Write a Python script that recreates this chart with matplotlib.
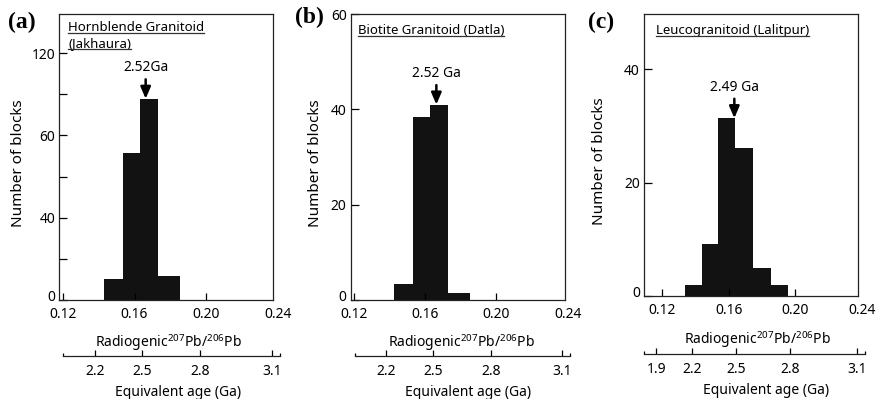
import numpy as np
import matplotlib
matplotlib.use("Agg")
import matplotlib.pyplot as plt
from matplotlib.lines import Line2D
from matplotlib.transforms import ScaledTranslation

plt.rcParams["font.family"] = ["Noto Sans", "DejaVu Sans"]
plt.rcParams["mathtext.fontset"] = "custom"
plt.rcParams["mathtext.rm"] = "Noto Sans"
plt.rcParams["mathtext.it"] = "Noto Sans:italic"
plt.rcParams["axes.linewidth"] = 0.9

# ---- data -------------------------------------------------------------
panel_letters = ["(a)", "(b)", "(c)"]
panel_titles = [["Hornblende Granitoid", "(Jakhaura)"],
                ["Biotite Granitoid (Datla)"],
                ["Leucogranitoid (Lalitpur)"]]

# bin edges (radiogenic 207Pb/206Pb) and number of blocks per bin
edges_a = [0.1428, 0.1533, 0.1630, 0.1732, 0.1853]
counts_a = [10.4, 71.5, 97.8, 11.8]
edges_b = [0.1425, 0.1530, 0.1627, 0.1730, 0.1852]
counts_b = [3.4, 38.3, 41.0, 1.5]
edges_c = [0.1338, 0.1438, 0.1533, 0.1635, 0.1743, 0.1851, 0.1956]
counts_c = [2.0, 9.1, 31.4, 26.2, 4.9, 2.0]

peak_ages = [2.52, 2.52, 2.49]
peak_labels = ["2.52Ga", "2.52 Ga", "2.49 Ga"]

ratio_ticks = [0.12, 0.16, 0.20, 0.24]
ratio_labels = ["0.12", "0.16", "0.20", "0.24"]
ratio_limits = [(0.118, 0.2375), (0.1181, 0.2385), (0.109, 0.2376)]

y_ticks = [[0, 20, 40, 60, 80, 100, 120], [0, 20, 40, 60], [0, 20, 40]]
y_labels = [["0", "", "40", "", "60", "", "120"], ["0", "20", "40", "60"], ["0", "20", "40"]]
y_limits = [(0, 139), (0, 60), (0, 49.8)]

age_ticks = [[2.2, 2.5, 2.8, 3.1], [2.2, 2.5, 2.8, 3.1], [1.9, 2.2, 2.5, 2.8, 3.1]]
age_spans = [(1.96, 3.13), (1.96, 3.13), (1.78, 3.13)]

edges_all = [edges_a, edges_b, edges_c]
counts_all = [counts_a, counts_b, counts_c]

# ---- decay constants: age (Ga) -> radiogenic 207Pb/206Pb --------------
L238 = 1.55125e-10
L235 = 9.8485e-10
U_RATIO = 137.88


def pb_ratio(age_ga):
    t = np.asarray(age_ga, dtype=float) * 1e9
    return np.expm1(L235 * t) / np.expm1(L238 * t) / U_RATIO


# ---- layout (pixels) ---------------------------------------------------
W, H = 879, 399
ax_boxes = [(59.3, 300, 214.0, 286), (350.7, 300, 214.3, 286), (644, 296, 214.0, 282)]
age_line_y = [356, 356, 354]
ylabel_x = [-0.155, -0.13, -0.175]
title_x = [0.041, 0.034, 0.056]
title_y = [[0.940, 0.885], [0.930], [0.929]]
letter_pos = [(8, 22), (295, 17), (588, 22)]
radio_pos = [(0.51, -0.15), (0.515, -0.15), (0.53, -0.155)]
equiv_pos = [(0.555, -0.325), (0.548, -0.325), (0.57, -0.334)]

fig = plt.figure(figsize=(W / 100, H / 100), dpi=100)
bar_color = "#121212"
title_texts = []
lift = ScaledTranslation(0, 3 / 72, fig.dpi_scale_trans)

for i in range(3):
    left, bottom, width, height = ax_boxes[i]
    ax = fig.add_axes([left / W, (H - bottom) / H, width / W, height / H])
    edges = np.array(edges_all[i])
    counts = np.array(counts_all[i])
    ax.stairs(counts, edges, fill=True, color=bar_color, linewidth=0)

    x0, x1 = ratio_limits[i]
    ax.set_xlim(x0, x1)
    ax.set_ylim(*y_limits[i])
    inside = [t for t in ratio_ticks if x0 <= t <= x1]
    ax.set_xticks(inside)
    ax.set_xticklabels([])
    for t, lab in zip(ratio_ticks, ratio_labels):
        ax.annotate(lab, xy=(t, 0), xycoords=ax.get_xaxis_transform(),
                    xytext=(0, -5), textcoords="offset points",
                    ha="center", va="top", fontsize=10, annotation_clip=False)
    ax.tick_params(axis="x", direction="in", length=5, width=0.9)
    ax.tick_params(axis="y", direction="in", length=6, width=0.9, pad=3)
    ax.set_yticks(y_ticks[i])
    ax.set_yticklabels(y_labels[i], fontsize=10)
    # the zero label sits a little above its tick, clear of the ratio labels
    zero_label = ax.get_yticklabels()[0]
    zero_label.set_transform(zero_label.get_transform() + lift)
    for s in ax.spines.values():
        s.set_color("#222222")

    ax.set_ylabel("Number of blocks", fontsize=11)
    ax.yaxis.set_label_coords(ylabel_x[i], 0.477)

    # panel title lines
    for line, ty in zip(panel_titles[i], title_y[i]):
        title_texts.append(ax.text(title_x[i], ty, line, transform=ax.transAxes,
                                   fontsize=9.5, ha="left", va="baseline"))

    # panel letter
    lx, ly = letter_pos[i]
    fig.text(lx / W, (H - ly) / H, panel_letters[i], fontsize=17,
             fontweight="bold", family="Liberation Serif", ha="left", va="center")

    # peak arrow and label
    r = float(pb_ratio(peak_ages[i]))
    k = int(np.clip(np.searchsorted(edges, r) - 1, 0, len(counts) - 1))
    h = counts[k]
    ax.annotate("", xy=(r, h), xytext=(0, 14), textcoords="offset points",
                arrowprops=dict(arrowstyle="-|>,head_length=0.7,head_width=0.3",
                                lw=1.8, color="black", shrinkA=0, shrinkB=0))
    ax.annotate(peak_labels[i], xy=(r, h), xytext=(0, 17), textcoords="offset points",
                ha="center", va="bottom", fontsize=10)

    # axis titles
    ax.text(*radio_pos[i], r"Radiogenic$^{207}$Pb/$^{206}$Pb", transform=ax.transAxes,
            ha="center", va="center", fontsize=10)
    ax.text(*equiv_pos[i], "Equivalent age (Ga)", transform=ax.transAxes,
            ha="center", va="center", fontsize=10)

    # equivalent-age scale drawn on its own axis with the same ratio mapping
    d = 0.012
    scale = width / (x1 - x0)
    age_ax = fig.add_axes([(left - d * scale) / W, (H - age_line_y[i]) / H,
                           (width + 2 * d * scale) / W, 0.01])
    age_ax.set_xlim(x0 - d, x1 + d)
    age_ax.patch.set_visible(False)
    for name in ("top", "left", "right"):
        age_ax.spines[name].set_visible(False)
    span = pb_ratio(age_spans[i])
    age_ax.spines["bottom"].set_bounds(span[0], span[1])
    age_ax.spines["bottom"].set_color("#222222")
    age_ax.set_yticks([])
    age_ax.set_xticks(pb_ratio(age_ticks[i]))
    age_ax.set_xticklabels([f"{a:.1f}" for a in age_ticks[i]], fontsize=10)
    age_ax.set_xticks(span, minor=True)
    age_ax.tick_params(axis="x", which="major", direction="in", length=4, width=0.9, pad=6)
    age_ax.tick_params(axis="x", which="minor", direction="in", length=2.5, width=0.9)

# underline the panel titles from their rendered extents
fig.canvas.draw()
renderer = fig.canvas.get_renderer()
for t in title_texts:
    bb = t.get_window_extent(renderer)
    y = bb.y0 + 1.0
    fig.add_artist(Line2D([bb.x0 / W, bb.x1 / W], [y / H, y / H],
                          transform=fig.transFigure, color="#333333", lw=0.9))

fig.savefig("out.png", dpi=100)
